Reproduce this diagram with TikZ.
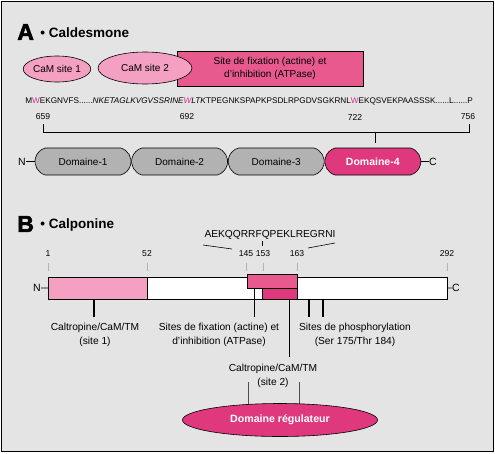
\documentclass[tikz,border=0pt]{standalone}
\usepackage{fontspec}
\setmainfont{Liberation Sans}
\newfontfamily\blackfont{Liberation Sans Bold}[FakeBold=2.5]
\usetikzlibrary{positioning,shapes.geometric,shapes.misc}
\definecolor{bggray}{HTML}{E4E4E4}
\definecolor{lightpink}{HTML}{F4A0C2}
\definecolor{midpink}{HTML}{E85A8E}
\definecolor{deeppink}{HTML}{E0387C}
\definecolor{domgray}{HTML}{B2B2B2}
\definecolor{trpmag}{HTML}{D8308A}
\newcommand{\trp}{\textcolor{trpmag}{W}}

\begin{document}
\begin{tikzpicture}[x=1pt,y=-1pt,
    line width=0.6pt,
    cam/.style={ellipse,draw,fill=lightpink,inner sep=0pt,font=\fontsize{10}{11}\selectfont},
    dom/.style={rounded rectangle,rounded rectangle arc length=150,draw,fill=domgray,
                minimum width=96pt,minimum height=27pt,inner sep=0pt,font=\fontsize{10}{11}\selectfont},
    num/.style={font=\fontsize{8.6}{9}\selectfont,inner sep=0pt},
    lab/.style={font=\fontsize{10.2}{13.5}\selectfont,align=center,inner sep=0pt},
    endlab/.style={font=\fontsize{10.5}{11}\selectfont,inner sep=0pt},
    bigletter/.style={font=\fontsize{23}{23}\blackfont,inner sep=0pt,anchor=west},
    title/.style={font=\fontsize{13.5}{13}\selectfont\bfseries,inner sep=0pt,anchor=west},
    gtick/.style={gray!60,line width=0.8pt},
    thickln/.style={line width=2pt},
    node distance=0pt
  ]
    \useasboundingbox (0,0) rectangle (495,453);
    \draw[fill=bggray,line width=1pt] (1,1) rectangle (493,451);

    % A : caldesmone
    \node[bigletter] (letA) at (17,32) {A};
    \node[title] (titA) at (40,33) {\textbullet\ Caldesmone};
    \node[cam,minimum width=59pt,minimum height=26pt] (cam1) at (57,69) {CaM site 1};
    \node[draw,fill=midpink,minimum width=186pt,minimum height=35pt,inner sep=0pt,
          align=center,font=\fontsize{10}{13}\selectfont] (fixA) at (270,68.5)
      {Site de fixation (actine) et\\d'inhibition (ATPase)};
    \node[cam,minimum width=94pt,minimum height=32pt] (cam2) at (145,68) {CaM site 2};
    \node[anchor=west,inner sep=0pt,font=\fontsize{8.2}{9}\selectfont] (seqA) at (25,101)
      {M\trp EKGNVFS......\textit{NKETAGLKVGVSSRINE\trp LTK}TPEGNKSPAPKPSDLRPGDVSGKRNL\trp EKQSVEKPAASSSK......L......P};
    \node[num] (n659) at (43,117) {659};
    \node[num] (n692) at (187,117) {692};
    \node[num] (n722) at (355,117) {722};
    \node[num] (n756) at (468,117) {756};
    \coordinate (brL) at (43,132);
    \coordinate (brR) at (469,132);
    \draw (brL) ++(0,-8) -- (brL) -- (brR) -- ++(0,-8);
    \node[dom] (d1) at (83,161.5) {Domaine-1};
    \node[dom,right=of d1] (d2) {Domaine-2};
    \node[dom,right=of d2] (d3) {Domaine-3};
    \node[dom,right=of d3,fill=deeppink,text=white,font=\fontsize{10.5}{11}\selectfont\bfseries] (d4) {Domaine-4};
    \draw (375,132) -- (375,143);
    \node[endlab] (nA) at (22,161.5) {N};
    \node[endlab] (cA) at (433,161.5) {C};
    \draw (nA) -- (d1);
    \draw (d4) -- (cA);

    % B : calponine
    \node[bigletter] (letB) at (17,224) {B};
    \node[title] (titB) at (40,225) {\textbullet\ Calponine};
    \node[inner sep=0pt,font=\fontsize{10.2}{11}\selectfont] (seqB) at (270,235) {AEKQQRRFQPEKLREGRNI};
    \draw (203,245) -- (232,249);
    \draw (262,241) -- (262,246);
    \draw (308,248) -- (335,243);
    \foreach \p/\x in {1/48,52/147,145/246,153/263,163/297,292/447}{
      \node[num] (b\p) at (\x,254) {\p};
      \draw[gtick] (\x,263) -- (\x,271);
    }
    \node[draw,fill=white,minimum width=399pt,minimum height=22pt,inner sep=0pt,
          anchor=north west] (barB) at (48,277) {};
    \node[draw,fill=lightpink,minimum width=99pt,minimum height=22pt,inner sep=0pt,
          anchor=north west] (site1B) at (48,277) {};
    \node[draw,fill=midpink,minimum width=50pt,minimum height=14pt,inner sep=0pt,
          anchor=north west] (fixB) at (247,274) {};
    \node[draw,fill=deeppink,minimum width=35pt,minimum height=11pt,inner sep=0pt,
          anchor=north west] (camB) at (262,288) {};
    \node[endlab] (nB) at (37,288) {N};
    \node[endlab] (cB) at (456,288) {C};
    \draw (nB) -- (barB);
    \draw (barB) -- (cB);

    \node[lab] (lab1) at (95,335) {Caltropine/CaM/TM\\(site 1)};
    \node[lab] (lab2) at (219,335) {Sites de fixation (actine) et\\d'inhibition (ATPase)};
    \node[lab] (lab3) at (355,335) {Sites de phosphorylation\\(Ser 175/Thr 184)};
    \node[lab] (lab4) at (273,376) {Caltropine/CaM/TM\\(site 2)};
    \node[ellipse,draw,fill=deeppink,minimum width=195pt,minimum height=33pt,inner sep=0pt,
          text=white,font=\fontsize{10.6}{11}\selectfont\bfseries] (reg) at (280,420)
      {Domaine régulateur};

    \draw[thickln] (barB.south -| 94,0) -- (94,317);
    \draw (fixB.south -| 254,0) -- (254,317);
    \draw[thickln] (barB.south -| 309,0) -- (309,317);
    \draw[thickln] (barB.south -| 323,0) -- (323,317);
    \draw (camB.south -| 289,0) -- (289,357);
    \coordinate (s2L) at (248,382);
    \coordinate (s2R) at (299,382);
    \draw (s2L) -- (s2L |- reg.north) -- ++(0,2);
    \draw (s2R) -- (s2R |- reg.north) -- ++(0,1);
  \end{tikzpicture}
\end{document}
